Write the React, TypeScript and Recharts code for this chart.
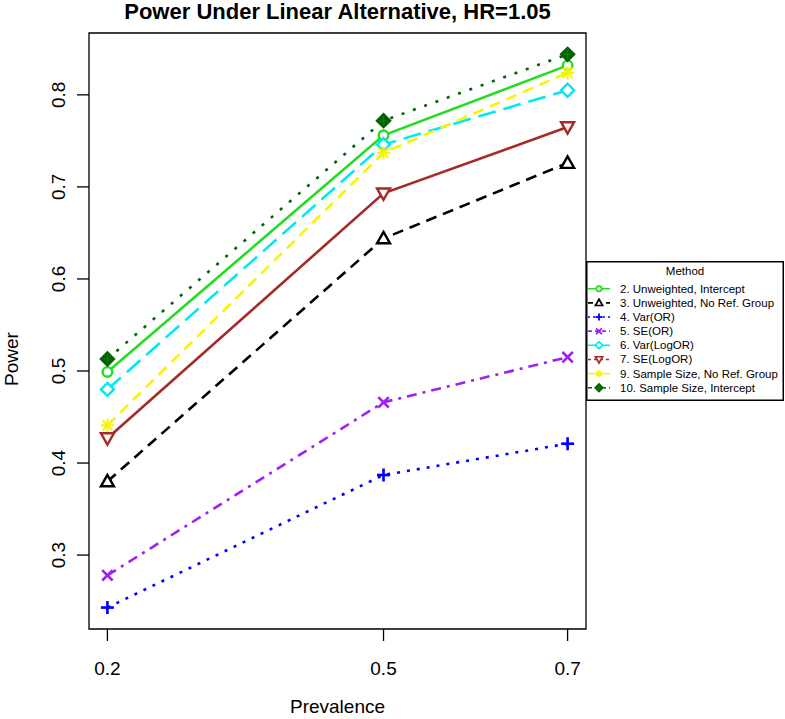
import React from 'react'
import { LineChart, Line, XAxis, YAxis, ReferenceArea, Legend, Label } from 'recharts'

// prevalence values on the x axis
const prevalence = [0.2, 0.5, 0.7]

// power per method
const unweightedIntercept = [0.499, 0.756, 0.832]
const unweightedNoRef = [0.38, 0.644, 0.726]
const varOR = [0.243, 0.387, 0.421]
const seOR = [0.278, 0.466, 0.515]
const varLogOR = [0.48, 0.746, 0.805]
const seLogOR = [0.427, 0.693, 0.765]
const sampleSizeNoRef = [0.441, 0.737, 0.824]
const sampleSizeIntercept = [0.513, 0.772, 0.844]

const methodLabels = [
  '2. Unweighted, Intercept',
  '3. Unweighted, No Ref. Group',
  '4. Var(OR)',
  '5. SE(OR)',
  '6. Var(LogOR)',
  '7. SE(LogOR)',
  '9. Sample Size, No Ref. Group',
  '10. Sample Size, Intercept',
]

const xTicks = [0.2, 0.5, 0.7]
const yTicks = [0.3, 0.4, 0.5, 0.6, 0.7, 0.8]
const xDomain = [0.18, 0.72]
const yDomain = [0.2197, 0.8672]

const FONT = '"Liberation Sans", Arial, Helvetica, sans-serif'

type Shape = 'circle' | 'triUp' | 'plus' | 'cross' | 'diamond' | 'triDown' | 'star' | 'diamondFill'

const series: {
  key: string
  values: number[]
  color: string
  dash?: string
  legendDash?: string
  shape: Shape
}[] = [
  { key: 's2', values: unweightedIntercept, color: '#22dd22', shape: 'circle' },
  { key: 's3', values: unweightedNoRef, color: '#000000', dash: '11 7', legendDash: '5 4', shape: 'triUp' },
  { key: 's4', values: varOR, color: '#0000ff', dash: '3 7', legendDash: '2 3', shape: 'plus' },
  { key: 's5', values: seOR, color: '#a020f0', dash: '10 6 3 6', legendDash: '4 3', shape: 'cross' },
  { key: 's6', values: varLogOR, color: '#00e8f2', dash: '18 8', shape: 'diamond' },
  { key: 's7', values: seLogOR, color: '#a52a2a', legendDash: '3 3', shape: 'triDown' },
  { key: 's9', values: sampleSizeNoRef, color: '#f8f400', dash: '11 7', shape: 'star' },
  { key: 's10', values: sampleSizeIntercept, color: '#006400', dash: '3 9', legendDash: '4 3', shape: 'diamondFill' },
]

const data = prevalence.map((x, i) => {
  const row: Record<string, number> = { x }
  series.forEach((s) => {
    row[s.key] = s.values[i]
  })
  return row
})

function marker(shape: Shape, cx: number, cy: number, color: string, k = 1, key?: string | number) {
  const sw = 2.4 * Math.max(k, 0.7)
  const r = 6.5 * k
  switch (shape) {
    case 'circle':
      return <circle key={key} cx={cx} cy={cy} r={4.8 * k} fill="#fff" stroke={color} strokeWidth={sw} />
    case 'triUp':
      return (
        <polygon
          key={key}
          points={`${cx},${cy - r} ${cx - r},${cy + r * 0.75} ${cx + r},${cy + r * 0.75}`}
          fill="#fff"
          stroke={color}
          strokeWidth={sw}
          strokeLinejoin="miter"
        />
      )
    case 'triDown':
      return (
        <polygon
          key={key}
          points={`${cx},${cy + r} ${cx - r},${cy - r * 0.75} ${cx + r},${cy - r * 0.75}`}
          fill="#fff"
          stroke={color}
          strokeWidth={sw}
        />
      )
    case 'plus':
      return (
        <g key={key} stroke={color} strokeWidth={sw * 1.1}>
          <line x1={cx - r} y1={cy} x2={cx + r} y2={cy} />
          <line x1={cx} y1={cy - r} x2={cx} y2={cy + r} />
        </g>
      )
    case 'cross':
      return (
        <g key={key} stroke={color} strokeWidth={sw * 1.1}>
          <line x1={cx - r * 0.8} y1={cy - r * 0.8} x2={cx + r * 0.8} y2={cy + r * 0.8} />
          <line x1={cx - r * 0.8} y1={cy + r * 0.8} x2={cx + r * 0.8} y2={cy - r * 0.8} />
        </g>
      )
    case 'diamond':
      return (
        <polygon
          key={key}
          points={`${cx},${cy - r} ${cx + r},${cy} ${cx},${cy + r} ${cx - r},${cy}`}
          fill="#fff"
          stroke={color}
          strokeWidth={sw}
        />
      )
    case 'star':
      return (
        <g key={key} stroke={color} strokeWidth={sw * 0.9}>
          <line x1={cx - r} y1={cy} x2={cx + r} y2={cy} />
          <line x1={cx} y1={cy - r} x2={cx} y2={cy + r} />
          <line x1={cx - r * 0.75} y1={cy - r * 0.75} x2={cx + r * 0.75} y2={cy + r * 0.75} />
          <line x1={cx - r * 0.75} y1={cy + r * 0.75} x2={cx + r * 0.75} y2={cy - r * 0.75} />
        </g>
      )
    case 'diamondFill':
      return (
        <g key={key}>
          <polygon
            points={`${cx},${cy - r * 1.1} ${cx + r * 1.1},${cy} ${cx},${cy + r * 1.1} ${cx - r * 1.1},${cy}`}
            fill={color}
            stroke={color}
            strokeWidth={1.5}
          />
          <g stroke="#3d8f3d" strokeWidth={0.8} strokeDasharray="1.2 1.2">
            <line x1={cx - r * 0.6} y1={cy} x2={cx + r * 0.6} y2={cy} />
            <line x1={cx} y1={cy - r * 0.6} x2={cx} y2={cy + r * 0.6} />
          </g>
        </g>
      )
  }
}

const XTick = ({ x, y, payload }: any) => (
  <text x={x} y={y + 32} textAnchor="middle" fontSize={19} fontFamily={FONT} fill="#000">
    {payload.value}
  </text>
)

const YTick = ({ x, y, payload }: any) => (
  <text
    x={x - 10}
    y={y}
    transform={`rotate(-90, ${x - 10}, ${y})`}
    textAnchor="middle"
    fontSize={19}
    fontFamily={FONT}
    fill="#000"
  >
    {payload.value}
  </text>
)

const MethodLegend = () => {
  const w = 198
  const h = 140
  return (
    <svg width={w} height={h} style={{ display: 'block', overflow: 'visible' }}>
      <rect x={0.75} y={0.75} width={w - 1.5} height={h - 1.5} fill="#fff" stroke="#000" strokeWidth={1.5} />
      <text x={w / 2} y={14} textAnchor="middle" fontSize={11.5} fontFamily={FONT} fill="#000">
        Method
      </text>
      {series.map((s, i) => {
        const cy = 27.7 + i * 14.15
        return (
          <g key={s.key}>
            <line
              x1={2}
              x2={24}
              y1={cy}
              y2={cy}
              stroke={s.color}
              strokeWidth={1.6}
              strokeDasharray={s.legendDash}
            />
            {marker(s.shape, 13, cy, s.color, 0.55)}
            <text x={34} y={cy + 4} fontSize={11.5} fontFamily={FONT} fill="#000">
              {methodLabels[i]}
            </text>
          </g>
        )
      })}
    </svg>
  )
}

export default function App() {
  return (
    <div style={{ position: 'absolute', left: 0, top: 0, width: 785, height: 719, background: '#fff' }}>
      <div
        style={{
          position: 'absolute',
          left: 89,
          width: 497,
          top: 0,
          textAlign: 'center',
          fontFamily: FONT,
          fontWeight: 'bold',
          fontSize: 22,
          lineHeight: '24px',
          color: '#000',
          whiteSpace: 'nowrap',
        }}
      >
        Power Under Linear Alternative, HR=1.05
      </div>
      <LineChart width={785} height={719} data={data} margin={{ top: 33, right: 199, bottom: 30, left: 9 }}>
        <XAxis
          type="number"
          dataKey="x"
          domain={xDomain}
          ticks={xTicks}
          allowDataOverflow
          height={60}
          axisLine={false}
          tickSize={12}
          tickLine={{ stroke: '#000', strokeWidth: 1.3 }}
          tick={<XTick />}
          interval={0}
        >
          <Label
            content={({ viewBox }: any) => (
              <text
                x={viewBox.x + viewBox.width / 2}
                y={viewBox.y + 84}
                textAnchor="middle"
                fontSize={19}
                fontFamily={FONT}
                fill="#000"
              >
                Prevalence
              </text>
            )}
          />
        </XAxis>
        <YAxis
          type="number"
          domain={yDomain}
          ticks={yTicks}
          allowDataOverflow
          width={80}
          axisLine={false}
          tickSize={12}
          tickLine={{ stroke: '#000', strokeWidth: 1.3 }}
          tick={<YTick />}
          interval={0}
        >
          <Label
            content={() => (
              <text
                x={18}
                y={359}
                transform="rotate(-90, 18, 359)"
                textAnchor="middle"
                fontSize={19}
                fontFamily={FONT}
                fill="#000"
              >
                Power
              </text>
            )}
          />
        </YAxis>
        <ReferenceArea
          x1={xDomain[0]}
          x2={xDomain[1]}
          y1={yDomain[0]}
          y2={yDomain[1]}
          fill="none"
          fillOpacity={0}
          stroke="#000"
          strokeWidth={1.3}
          ifOverflow="visible"
        />
        {series.map((s) => (
          <Line
            key={s.key}
            dataKey={s.key}
            type="linear"
            stroke={s.color}
            strokeWidth={2.6}
            strokeDasharray={s.dash}
            isAnimationActive={false}
            activeDot={false}
            legendType="none"
            dot={(p: any) => marker(s.shape, p.cx, p.cy, s.color, 1, `${s.key}-${p.index}`)}
          />
        ))}
        <Legend
          layout="vertical"
          align="center"
          verticalAlign="middle"
          content={<MethodLegend />}
          wrapperStyle={{ position: 'absolute', left: 586, top: 261, width: 198, height: 140 }}
        />
      </LineChart>
    </div>
  )
}
